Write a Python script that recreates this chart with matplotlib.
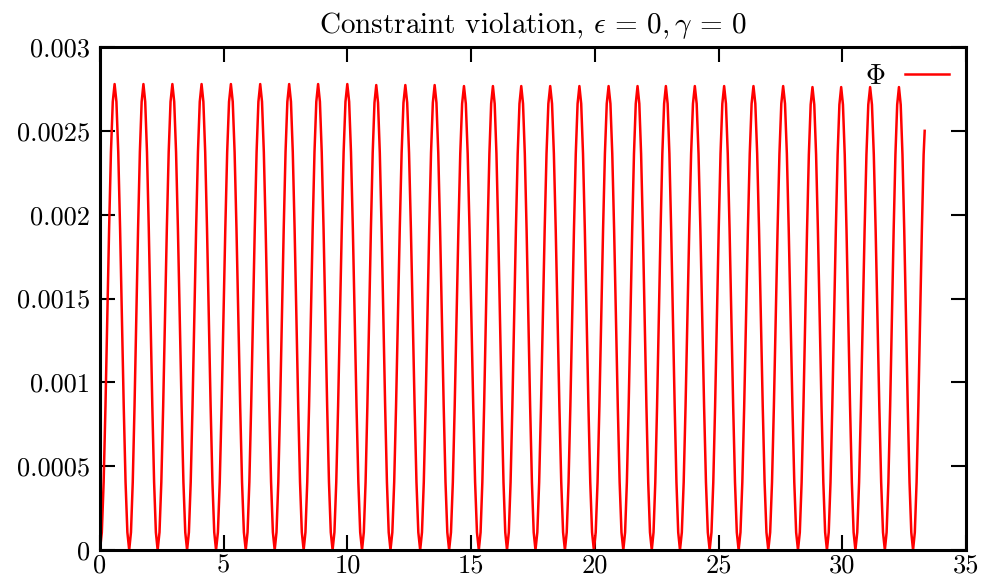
import numpy as np
import matplotlib
matplotlib.use('Agg')
from matplotlib import pyplot as plt

plt.rcParams['font.family'] = 'cmr10'
plt.rcParams['mathtext.fontset'] = 'cm'
plt.rcParams['axes.unicode_minus'] = False

# times of the minima (Phi ~ 0)
trough_t = [0.0, 1.18, 2.33, 3.52, 4.69, 5.89, 7.06, 8.23, 9.40, 10.59, 11.74,
            12.94, 14.11, 15.31, 16.45, 17.60, 18.79, 19.96, 21.15, 22.30,
            23.44, 24.64, 25.81, 27.01, 28.21, 29.38, 30.53, 31.72, 32.86]
# height of each hump between two minima
peak_phi = [0.002779, 0.002779, 0.002779, 0.002779, 0.002779, 0.002779, 0.002779,
            0.002779, 0.002779, 0.002773, 0.002773, 0.002773, 0.002767, 0.002767,
            0.002767, 0.002767, 0.002767, 0.002767, 0.002767, 0.002767, 0.002767,
            0.002767, 0.002767, 0.002767, 0.002761, 0.002761, 0.002761, 0.002761]
# shape of one hump, fraction of its height at 16 equal steps across the cycle
hump = [0.0, 0.038, 0.146, 0.309, 0.5, 0.691, 0.854, 0.962, 1.0,
        0.962, 0.854, 0.691, 0.5, 0.309, 0.146, 0.038]
# last sample of the run
end_t = 33.33
end_phi = 0.0025

t = []
phi = []
for i in range(len(peak_phi)):
    t0 = trough_t[i]
    t1 = trough_t[i + 1]
    for k in range(len(hump)):
        t.append(t0 + (t1 - t0) * k / len(hump))
        phi.append(hump[k] * peak_phi[i])
# partial hump at the end
period = trough_t[-1] - trough_t[-2]
for k in range(len(hump)):
    tk = trough_t[-1] + period * k / len(hump)
    if tk >= end_t:
        break
    t.append(tk)
    phi.append(hump[k] * peak_phi[-1])
t.append(end_t)
phi.append(end_phi)

xticks = [0, 5, 10, 15, 20, 25, 30, 35]
yticks = [0, 0.0005, 0.001, 0.0015, 0.002, 0.0025, 0.003]
ylabels = ['0', '0.0005', '0.001', '0.0015', '0.002', '0.0025', '0.003']

fig = plt.figure(figsize=(9.87, 5.79), dpi=100)
ax = fig.add_axes([100 / 987, 1 - 550 / 579, 866 / 987, 503 / 579])

ax.plot(t, phi, color='#ff0000', lw=1.8, label=r'$\Phi$')

ax.set_xlim(0, 35)
ax.set_ylim(0, 0.003)
ax.set_xticks(xticks)
ax.set_xticklabels([str(v) for v in xticks])
ax.set_yticks(yticks)
ax.set_yticklabels(ylabels)
ax.tick_params(direction='in', length=11, width=1.5, labelsize=19,
               top=True, right=True, pad=3)
ax.tick_params(axis='y', pad=7)
for s in ax.spines.values():
    s.set_linewidth(2.2)

ax.set_title(r'Constraint violation, $\epsilon\,=\,0,\gamma\,=\,0$', fontsize=21, pad=10)

ax.legend(loc='upper right', frameon=False, markerfirst=False, fontsize=20,
          handlelength=1.6, borderaxespad=0.2, handletextpad=0.7)

fig.savefig('out.png', dpi=100)
